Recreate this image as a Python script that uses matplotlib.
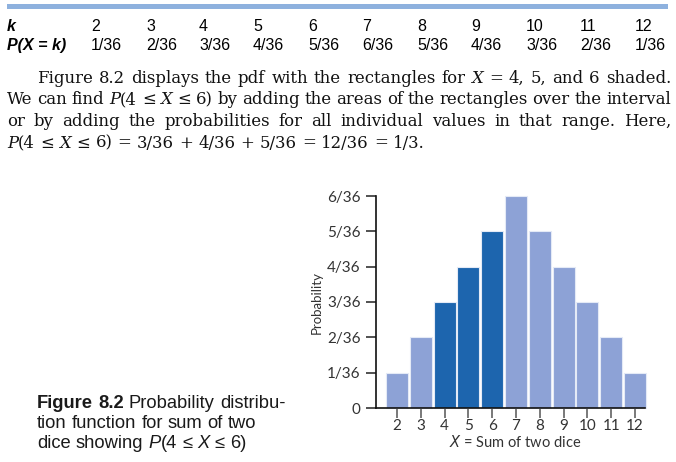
import re
import matplotlib
matplotlib.use("Agg")
import matplotlib.pyplot as plt
from matplotlib.patches import Rectangle

# ---------------- data ----------------
k_values = [2, 3, 4, 5, 6, 7, 8, 9, 10, 11, 12]
numerators = [1, 2, 3, 4, 5, 6, 5, 4, 3, 2, 1]
prob_labels = ["1/36", "2/36", "3/36", "4/36", "5/36", "6/36",
               "5/36", "4/36", "3/36", "2/36", "1/36"]
shaded_k = [4, 5, 6]
ytick_values = [0, 1, 2, 3, 4, 5, 6]
ytick_labels = ["0", "1/36", "2/36", "3/36", "4/36", "5/36", "6/36"]
probabilities = [n / 36 for n in numerators]

paragraph_lines = [
    "Figure 8.2 displays the pdf with the rectangles for *X* = 4, 5, and 6 shaded.",
    "We can find *P*(4 ≤ *X* ≤ 6) by adding the areas of the rectangles over the interval",
    "or by adding the probabilities for all individual values in that range. Here,",
    "*P*(4 ≤ *X* ≤ 6) = 3/36 + 4/36 + 5/36 = 12/36 = 1/3.",
]
caption_lines = [
    "**Figure** **8.2** Probability distribu-",
    "tion function for sum of two",
    "dice showing *P*(4 ≤ *X* ≤ 6)",
]

# ---------------- figure ----------------
W, H = 676, 462
fig = plt.figure(figsize=(W / 100, H / 100), dpi=100)
fig.patch.set_facecolor("white")
renderer = fig.canvas.get_renderer()

def fx(x):
    return x / W

def fy(y):
    return 1 - y / H

LIGHT = "#8DA2D6"
DARK = "#1D65AE"

# top rule
fig.add_artist(Rectangle((fx(7), fy(9)), (668 - 7) / W, 5 / H,
                         transform=fig.transFigure, color="#8EB1DE", lw=0))

# table
tab_font = ["Liberation Sans", "DejaVu Sans"]
tab_fs = 11.5
col_x = [91, 146, 199, 253, 308, 362, 417, 471, 526, 580, 635]
fig.text(fx(7), fy(31), "k", fontsize=tab_fs, family=tab_font, weight="bold",
         style="italic", va="baseline", ha="left")
fig.text(fx(7), fy(50), "P(X = k)", fontsize=tab_fs, family=tab_font,
         weight="bold", style="italic", va="baseline", ha="left")
for x, k, p in zip(col_x, k_values, prob_labels):
    fig.text(fx(x), fy(31), str(k), fontsize=tab_fs, family=tab_font,
             va="baseline", ha="left")
    fig.text(fx(x), fy(50), p, fontsize=tab_fs, family=tab_font,
             va="baseline", ha="left")


# ---------------- rich text helpers ----------------
def parse_word(word):
    segs = []
    for part in re.split(r"(\*\*[^*]+\*\*|\*[^*]+\*)", word):
        if not part:
            continue
        if part.startswith("**"):
            segs.append((part[2:-2], "bold"))
        elif part.startswith("*"):
            segs.append((part[1:-1], "italic"))
        else:
            segs.append((part, "normal"))
    return segs


def seg_props(kind, family, fs):
    d = dict(fontsize=fs, family=family)
    if kind == "italic":
        d["style"] = "italic"
    if kind == "bold":
        d["weight"] = "bold"
    return d


def measure(s, props):
    t = fig.text(0, 0, s, **props)
    bb = t.get_window_extent(renderer)
    t.remove()
    return bb.width


def word_width(segs, family, fs):
    return sum(measure(s, seg_props(k, family, fs)) for s, k in segs)


def space_width(family, fs):
    p = seg_props("normal", family, fs)
    return measure("n n", p) - measure("nn", p)


def line_width(line, family, fs):
    words = [parse_word(w) for w in line.split(" ")]
    return sum(word_width(w, family, fs) for w in words) + \
        space_width(family, fs) * (len(words) - 1)


def draw_line(line, x0, x1, ybase, family, fs, justify, color="black"):
    words = [parse_word(w) for w in line.split(" ")]
    widths = [word_width(w, family, fs) for w in words]
    if justify and len(words) > 1:
        gap = (x1 - x0 - sum(widths)) / (len(words) - 1)
    else:
        gap = space_width(family, fs)
    x = x0
    for segs, w in zip(words, widths):
        xx = x
        for s, k in segs:
            p = seg_props(k, family, fs)
            fig.text(fx(xx), fy(ybase), s, va="baseline", ha="left",
                     color=color, **p)
            xx += measure(s, p)
        x += w + gap


# paragraph
serif = ["DejaVu Serif", "Liberation Serif"]
fs_par = 10 * 416 / line_width(paragraph_lines[3], serif, 10)
fs_par = max(11.0, min(13.5, fs_par))
par_base = [83, 104.5, 126, 147.5]
for i, (line, yb) in enumerate(zip(paragraph_lines, par_base)):
    x0 = 37 if i == 0 else 7
    draw_line(line, x0, 671, yb, serif, fs_par, justify=(i < 3),
              color="#111111")

# caption
sans = ["Liberation Sans", "DejaVu Sans"]
fs_cap = 10 * 250 / line_width(caption_lines[0], sans, 10)
cap_base = [408, 428, 448]
for line, yb in zip(caption_lines, cap_base):
    draw_line(line, 37, 300, yb, sans, fs_cap, justify=False, color="#1a1a1a")

# ---------------- chart ----------------
ax_left, ax_right, ax_top, ax_bottom = 376, 645, 196, 408
ax = fig.add_axes([fx(ax_left), fy(ax_bottom),
                   (ax_right - ax_left) / W, (ax_bottom - ax_top) / H])
px_per_unit = (635 - 397) / 10
xmin = 2 - (397 - ax_left) / px_per_unit
xmax = 12 + (ax_right - 635) / px_per_unit
ax.set_xlim(xmin, xmax)
ax.set_ylim(0, 6 / 36)

colors = [DARK if k in shaded_k else LIGHT for k in k_values]
ax.bar(k_values, probabilities, width=0.92, color=colors,
       edgecolor="#E4EAF6", linewidth=0.8, clip_on=False, zorder=2)

chart_font = ["Lato", "DejaVu Sans"]
txt_col = "#333333"
ax.set_yticks([v / 36 for v in ytick_values])
ax.set_yticklabels(ytick_labels, fontsize=11, family=chart_font, color=txt_col)
ax.set_xticks(k_values)
ax.set_xticklabels([str(k) for k in k_values], fontsize=11, family=chart_font,
                   color=txt_col)
ax.tick_params(axis="y", direction="out", length=7, width=1.1, pad=4,
               color="#222222")
ax.tick_params(axis="x", direction="out", length=7, width=1.1, pad=1,
               color="#555555")
for s in ["top", "right"]:
    ax.spines[s].set_visible(False)
for s in ["left", "bottom"]:
    ax.spines[s].set_linewidth(1.2)
    ax.spines[s].set_color("#111111")
    ax.spines[s].set_zorder(3)

fig.text(fx(317), fy(302), "Probability", rotation=90, ha="center",
         va="center", fontsize=9.5, family=chart_font, color=txt_col)
fig.text(fx(515), fy(442), "$\\it{X}$ = Sum of two dice", ha="center",
         va="center", fontsize=10.5, family=chart_font, color=txt_col)
ax.patch.set_alpha(0)

fig.savefig("out.png", dpi=100, facecolor="white")
